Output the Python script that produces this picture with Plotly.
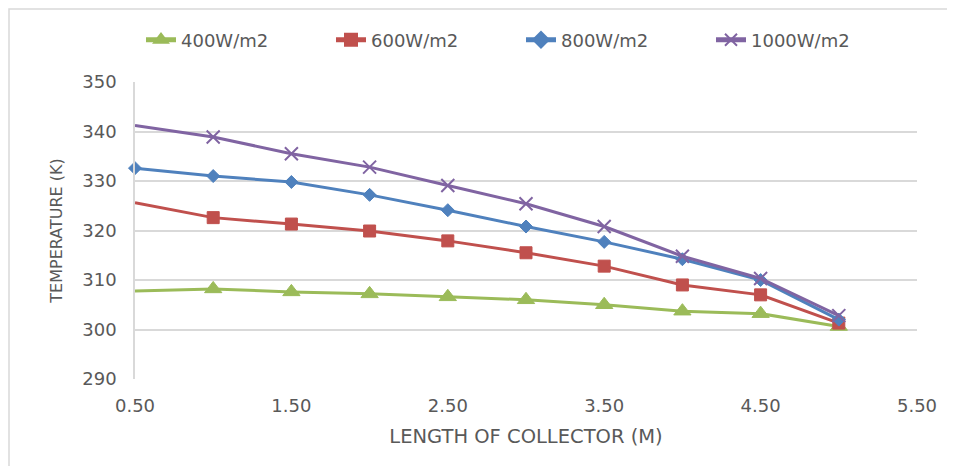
import plotly.graph_objects as go

length_m = [0.5, 1.0, 1.5, 2.0, 2.5, 3.0, 3.5, 4.0, 4.5, 5.0]
t_400 = [307.8, 308.2, 307.6, 307.2, 306.6, 306.0, 305.0, 303.7, 303.2, 300.6]
t_600 = [325.6, 322.6, 321.3, 319.9, 317.9, 315.5, 312.8, 309.0, 307.0, 301.3]
t_800 = [332.6, 331.0, 329.8, 327.2, 324.1, 320.8, 317.7, 314.2, 310.0, 302.0]
t_1000 = [341.2, 338.9, 335.5, 332.8, 329.1, 325.4, 320.8, 314.8, 310.3, 302.8]
series_names = ["400W/m2", "600W/m2", "800W/m2", "1000W/m2"]
y_ticks = [290, 300, 310, 320, 330, 340, 350]
x_ticks = [0.5, 1.5, 2.5, 3.5, 4.5, 5.5]

styles = [
    dict(color="#9BBB59", symbol="triangle-up", size=15, lw=1, first=False),
    dict(color="#C0504D", symbol="square", size=12, lw=1, first=False),
    dict(color="#4F81BD", symbol="diamond", size=10, lw=1, first=True),
    dict(color="#8064A2", symbol="x-thin", size=13, lw=2, first=False),
]
all_series = [t_400, t_600, t_800, t_1000]

fig = go.Figure()
for name, vals, st in zip(series_names, all_series, styles):
    sizes = [st["size"]] * len(vals)
    if not st["first"]:
        sizes[0] = 0
    fig.add_trace(go.Scatter(
        x=length_m, y=vals, name=name, mode="lines+markers",
        line=dict(color=st["color"], width=3),
        marker=dict(symbol=st["symbol"], size=sizes, color=st["color"], opacity=1,
                    line=dict(color=st["color"], width=st["lw"])),
        cliponaxis=False,
    ))

# The page body has an 8px margin, so the figure is sized/margined to compensate.
font_fam = "DejaVu Sans, sans-serif"
grey = "#595959"
fig.update_layout(
    width=947, height=458,
    margin=dict(l=127, r=38, t=74, b=87, autoexpand=False),
    paper_bgcolor="white", plot_bgcolor="white",
    font=dict(family=font_fam, color=grey, size=16),
    legend=dict(orientation="h", x=(141 - 135) / 782, xanchor="left",
                y=1 + (82 - 40) / 297, yanchor="middle",
                font=dict(size=18, color=grey), entrywidth=145,
                traceorder="normal", itemsizing="constant"),
    showlegend=True,
)
fig.update_xaxes(
    range=[0.5, 5.5], tickvals=x_ticks, ticktext=[f"{v:.2f}" for v in x_ticks],
    showgrid=False, zeroline=False, showline=False, automargin=False,
    ticks="outside", ticklen=10, tickcolor="rgba(0,0,0,0)",
    tickfont=dict(size=18, color=grey),
    title=dict(text="LENGTH OF COLLECTOR (M)", font=dict(size=19.5, color=grey), standoff=14),
)
fig.update_yaxes(
    range=[290, 350], tickvals=y_ticks,
    showgrid=True, gridcolor="#D9D9D9", gridwidth=1.5, zeroline=False,
    showline=True, linecolor="#D9D9D9", linewidth=1.5, automargin=False,
    ticks="outside", ticklen=13, tickcolor="rgba(0,0,0,0)",
    tickfont=dict(size=18, color=grey),
    title=dict(text="TEMPERATURE (K)", font=dict(size=16, color=grey), standoff=16),
)
# outer chart frame (top and left edges visible)
fig.add_shape(type="rect", xref="paper", yref="paper",
              x0=(9 - 135) / 782, x1=(1000 - 135) / 782,
              y0=-(520 - 379) / 297, y1=1 + (82 - 9) / 297,
              line=dict(color="#D9D9D9", width=1.5), fillcolor="rgba(0,0,0,0)", layer="below")

fig.write_html("out.html")
